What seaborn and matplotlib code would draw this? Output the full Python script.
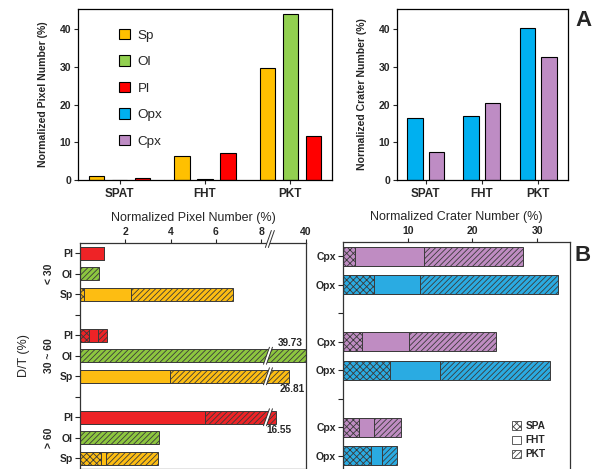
import numpy as np
import pandas as pd
import matplotlib
matplotlib.use("Agg")
import matplotlib.pyplot as plt
import matplotlib.transforms as mtransforms
from matplotlib.patches import Patch, Polygon
import seaborn as sns

# ---------------- values ----------------
sites = ["SPAT", "FHT", "PKT"]

# panel A left: normalized pixel number (%)
pix_sp = [1.15, 6.35, 29.6]
pix_ol = [0.0, 0.3, 44.0]
pix_pl = [0.4, 7.05, 11.55]

# panel A right: normalized crater number (%)
crat_opx = [16.3, 17.0, 40.3]
crat_cpx = [7.3, 20.5, 32.6]

# panel B: D/T classes, each bar split into SPA / FHT / PKT parts
dt_classes = ["< 30", "30 ~ 60", "> 60"]

pix_rows = ["Pl", "Ol", "Sp"] * 3
pix_spa = [0.0, 0.0, 0.18, 0.38, 0.0, 0.0, 0.0, 0.0, 0.94]
pix_fht = [1.04, 0.0, 2.06, 0.42, 0.0, 3.99, 5.50, 0.0, 0.20]
pix_pkt = [0.03, 0.85, 4.50, 0.40, 39.73, 22.82, 11.05, 3.49, 2.30]

crat_rows = ["Cpx", "Opx"] * 3
crat_spa = [1.8, 4.75, 3.0, 7.3, 2.4, 4.3]
crat_fht = [10.8, 7.2, 7.2, 7.75, 2.35, 1.7]
crat_pkt = [15.2, 21.25, 13.4, 17.0, 4.25, 2.4]

colors_a = {"Sp": "#FFC000", "Ol": "#92D050", "Pl": "#FF0000",
            "Opx": "#00B0F0", "Cpx": "#BE8CC4"}
colors_b = {"Sp": "#FDBD12", "Ol": "#8DC63F", "Pl": "#EE2326",
            "Opx": "#2AABE2", "Cpx": "#BF8CC2"}

# broken x axis on the pixel panel
BRK = 8.2      # linear up to here
SQ = 0.056     # squeeze factor after the break
BRK_X = 10.0   # where the slash is drawn


def fwd(x):
    x = np.asarray(x, dtype=float)
    return np.where(x <= BRK, x, BRK + (x - BRK) * SQ)


def inv(y):
    y = np.asarray(y, dtype=float)
    return np.where(y <= BRK, y, BRK + (y - BRK) / SQ)


sns.set_style("ticks")
plt.rcParams["font.family"] = ["Liberation Sans", "DejaVu Sans"]
plt.rcParams["hatch.linewidth"] = 0.6
plt.rcParams["axes.linewidth"] = 0.9

fig = plt.figure(figsize=(5.94, 4.69), dpi=100)
W, H = 594, 469


def px_axes(x0, y0, x1, y1):
    return fig.add_axes([x0 / W, 1 - y1 / H, (x1 - x0) / W, (y1 - y0) / H])


ax1 = px_axes(78, 9, 332, 180)
ax2 = px_axes(397, 9, 568, 180)
ax3 = px_axes(80, 243, 306, 468.5)
ax4 = px_axes(343, 242, 570, 470)

# ---------------- panel A ----------------
dfa = pd.DataFrame({"site": sites * 3,
                    "mineral": ["Sp"] * 3 + ["Ol"] * 3 + ["Pl"] * 3,
                    "value": pix_sp + pix_ol + pix_pl})
sns.barplot(data=dfa, x="site", y="value", hue="mineral", palette=colors_a,
            width=0.81, gap=0.33, saturation=1, edgecolor="black", linewidth=0.8,
            errorbar=None, legend=False, ax=ax1)

dfc = pd.DataFrame({"site": sites * 2,
                    "mineral": ["Opx"] * 3 + ["Cpx"] * 3,
                    "value": crat_opx + crat_cpx})
sns.barplot(data=dfc, x="site", y="value", hue="mineral", palette=colors_a,
            width=0.77, gap=0.29, saturation=1, edgecolor="black", linewidth=0.8,
            errorbar=None, legend=False, ax=ax2)

ax1.set_xlim(-0.49, 2.49)
ax2.set_xlim(-0.51, 2.53)
for ax, lab in [(ax1, "Normalized Pixel Number (%)"), (ax2, "Normalized Crater Number (%)")]:
    ax.set_ylim(0, 45.3)
    ax.set_yticks([0, 10, 20, 30, 40])
    ax.set_xlabel("")
    ax.set_ylabel(lab, fontsize=7.6, fontweight="bold", labelpad=8)
    ax.tick_params(axis="y", labelsize=7.5, length=3, width=0.8, pad=2)
    ax.tick_params(axis="x", labelsize=8.5, length=3, width=0.8, pad=3)
    for t in ax.get_xticklabels() + ax.get_yticklabels():
        t.set_fontweight("bold")
    for s in ax.spines.values():
        s.set_visible(True)
        s.set_color("black")

handles = [Patch(facecolor=colors_a[m], edgecolor="black", linewidth=0.8)
           for m in ["Sp", "Ol", "Pl", "Opx", "Cpx"]]
ax1.legend(handles, ["Sp", "Ol", "Pl", "Opx", "Cpx"], loc="upper left",
           bbox_to_anchor=(0.16, 0.885), frameon=False, fontsize=9.7,
           handlelength=0.85, handleheight=0.85, handletextpad=0.55,
           labelspacing=1.0, borderpad=0, borderaxespad=0)

fig.text(583 / W, 1 - 20 / H, "A", fontsize=16, fontweight="bold",
         ha="center", va="center")
fig.text(583 / W, 1 - 255 / H, "B", fontsize=16, fontweight="bold",
         ha="center", va="center")

# ---------------- panel B ----------------
EDGE = "#3a3a3a"


def stacked(ax, rows, spa, fht, pkt, gap_every):
    pos = [i + i // gap_every for i in range(len(rows))]
    df = pd.DataFrame({"pos": pos, "row": rows})
    df["c1"] = np.array(spa)
    df["c2"] = df["c1"] + np.array(fht)
    df["c3"] = df["c2"] + np.array(pkt)
    for col, hatch in [("c3", "//////"), ("c2", None), ("c1", "xxxxx")]:
        sns.barplot(data=df, x=col, y="pos", hue="row", palette=colors_b,
                    orient="h", native_scale=True, dodge=False, width=0.65,
                    saturation=1, hatch=hatch, edgecolor=EDGE, linewidth=0.7,
                    errorbar=None, legend=False, ax=ax)
    n = pos[-1] + 1
    ax.set_ylim(n - 0.5, -0.5)
    ax.set_yticks(range(n))
    labels = [""] * n
    for p, r in zip(pos, rows):
        labels[p] = r
    ax.set_yticklabels(labels)
    ax.xaxis.tick_top()
    ax.xaxis.set_label_position("top")
    ax.set_ylabel("")
    ax.tick_params(axis="y", labelsize=7.5, length=3.5, width=0.8, pad=1.5)
    ax.tick_params(axis="x", labelsize=7.5, length=3, width=0.8, pad=1.5)
    for t in ax.get_xticklabels() + ax.get_yticklabels():
        t.set_fontweight("bold")
    for s in ax.spines.values():
        s.set_visible(True)
        s.set_color("#333333")
    return df


dfp = stacked(ax3, pix_rows, pix_spa, pix_fht, pix_pkt, 3)
ax3.set_xscale("function", functions=(fwd, inv))
ax3.set_xlim(0, 40)
ax3.set_xticks([2, 4, 6, 8, 40])
ax3.set_xticklabels(["2", "4", "6", "8", "40"])
for t in ax3.get_xticklabels():
    t.set_fontweight("bold")
ax3.set_xlabel("Normalized Pixel Number (%)", fontsize=9, labelpad=4)

dfr = stacked(ax4, crat_rows, crat_spa, crat_fht, crat_pkt, 2)
ax4.set_xlim(0, 35.1)
ax4.set_xticks([10, 20, 30])
ax4.set_xticklabels(["10", "20", "30"])
for t in ax4.get_xticklabels():
    t.set_fontweight("bold")
ax4.set_xlabel("Normalized Crater Number (%)", fontsize=9, labelpad=4)

# D/T class labels
for k, cls in enumerate(dt_classes):
    ax3.text(-0.135, 4 * k + 1, cls, transform=ax3.get_yaxis_transform(),
             rotation=90, ha="center", va="center", fontsize=7.5, fontweight="bold")
ax3.set_ylabel("D/T (%)", fontsize=9)
ax3.yaxis.set_label_coords(-0.22, 0.5)

# break slashes on the long bars and on the top spine
slash = [(-0.045, -0.085), (-0.015, -0.085), (0.045, 0.085), (0.015, 0.085)]


def draw_break(trans, clip=True):
    ax3.add_patch(Polygon(slash, closed=True, facecolor="white", edgecolor="none",
                          transform=trans, zorder=5, clip_on=clip))
    for a, b in [(0, 3), (1, 2)]:
        ax3.plot([slash[a][0], slash[b][0]], [slash[a][1], slash[b][1]],
                 transform=trans, color="#333333", lw=0.7, zorder=6, clip_on=clip)


for p, tot in zip(dfp["pos"], dfp["c3"]):
    if tot > BRK_X:
        draw_break(fig.dpi_scale_trans +
                   mtransforms.ScaledTranslation(BRK_X, p, ax3.transData))
        if tot > 35:
            ax3.annotate(f"{tot:.2f}", (tot, p - 0.38), xytext=(-2.5, 0),
                         textcoords="offset points", ha="right", va="bottom",
                         fontsize=7.2, fontweight="bold")
        else:
            ax3.annotate(f"{tot:.2f}", (tot, p + 0.38), xytext=(2, 0),
                         textcoords="offset points", ha="center", va="top",
                         fontsize=7.2, fontweight="bold")

draw_break(fig.dpi_scale_trans +
           mtransforms.ScaledTranslation(BRK_X + 1.5, 1.0, ax3.get_xaxis_transform()) +
           mtransforms.Affine2D().translate(0, 4), clip=False)

# hatch legend
leg_h = [Patch(facecolor="white", edgecolor="#444444", hatch="xxxxx", linewidth=0.6),
         Patch(facecolor="white", edgecolor="#444444", linewidth=0.6),
         Patch(facecolor="white", edgecolor="#444444", hatch="//////", linewidth=0.6)]
ax4.legend(leg_h, ["SPA", "FHT", "PKT"], loc="upper left",
           bbox_to_anchor=(0.745, 0.215), frameon=False,
           handlelength=0.85, handleheight=0.85, handletextpad=0.5,
           labelspacing=0.42, borderpad=0, borderaxespad=0,
           prop={"weight": "bold", "size": 7.3})

fig.savefig("out.png", dpi=100)
